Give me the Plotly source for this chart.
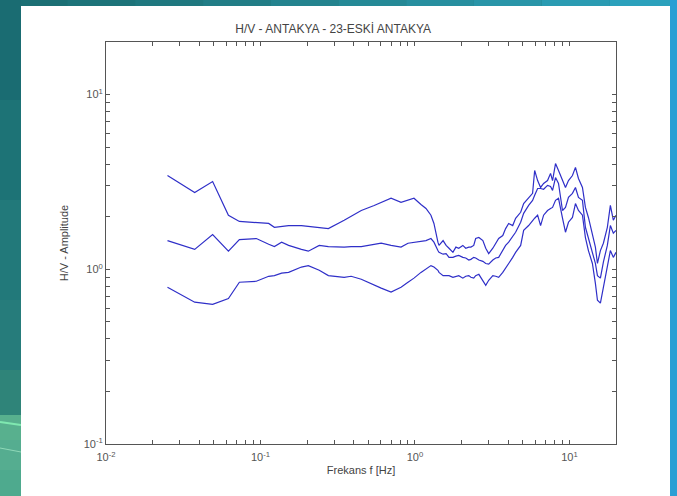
import plotly.graph_objects as go

# ---- data (frequency in Hz, H/V amplitude) ----
freq = [0.025, 0.0375, 0.049, 0.062, 0.073, 0.094, 0.113, 0.123, 0.137, 0.152, 0.184, 0.204, 0.240, 0.275, 0.348, 0.386, 0.449,
        0.544, 0.604, 0.700, 0.812, 0.901, 0.985, 1.093, 1.178, 1.268, 1.326, 1.407,
        1.43, 1.52, 1.59, 1.66, 1.76, 1.84, 1.92, 2.04, 2.13, 2.23, 2.30, 2.40, 2.47, 2.59, 2.75, 2.87, 3.00, 3.19, 3.33, 3.48, 3.70, 3.86, 4.04, 4.29, 4.48, 4.83,
        5.05, 5.44, 5.77, 5.95, 6.22, 6.50, 6.80, 7.21, 7.54, 7.77, 8.12, 8.49, 9.01, 9.42, 9.85, 10.45, 10.93, 11.43, 12.13, 12.68, 13.26, 14.07, 14.71, 15.17, 15.85, 16.57, 17.58, 18.39, 19.22, 20.0]

hv_upper = [3.44, 2.75, 3.18, 2.04, 1.88, 1.86, 1.83, 1.74, 1.76, 1.78, 1.78, 1.76, 1.74, 1.71, 1.91, 2.01, 2.17,
            2.32, 2.42, 2.55, 2.42, 2.48, 2.55, 2.35, 2.23, 2.04, 1.83, 1.43,
            1.37, 1.46, 1.37, 1.32, 1.25, 1.34, 1.32, 1.37, 1.32, 1.34, 1.34, 1.37, 1.50, 1.52, 1.46, 1.32, 1.23, 1.32, 1.41, 1.50, 1.56, 1.71, 1.83, 1.78, 1.96, 2.12,
            2.38, 2.58, 2.72, 3.68, 3.22, 2.94, 3.10, 3.22, 3.54, 3.22, 4.03, 3.68, 3.22, 2.94, 3.22, 3.44, 3.83, 3.31, 2.94, 2.26, 1.98, 1.61, 1.34, 1.08, 1.28, 1.41, 1.74, 2.32, 1.91, 2.04]

hv_mean = [1.46, 1.30, 1.58, 1.27, 1.48, 1.50, 1.39, 1.35, 1.43, 1.37, 1.30, 1.27, 1.37, 1.35, 1.34, 1.35, 1.35,
           1.39, 1.41, 1.37, 1.34, 1.41, 1.43, 1.45, 1.46, 1.50, 1.43, 1.28,
           1.25, 1.22, 1.23, 1.17, 1.17, 1.19, 1.20, 1.17, 1.16, 1.13, 1.14, 1.17, 1.16, 1.13, 1.11, 1.08, 1.07, 1.13, 1.16, 1.17, 1.28, 1.37, 1.43, 1.54, 1.63, 1.86,
           2.09, 2.32, 2.48, 2.65, 2.90, 2.90, 2.87, 3.02, 2.98, 2.83, 3.35, 3.10, 2.17, 2.26, 2.58, 2.72, 2.94, 2.58, 2.48, 1.74, 1.52, 1.28, 1.08, 0.92, 0.89, 1.10, 1.37, 1.78, 1.61, 1.67]

hv_lower = [0.79, 0.648, 0.63, 0.68, 0.843, 0.854, 0.912, 0.92, 0.95, 0.96, 1.03, 1.05, 0.987, 0.92, 0.90, 0.912, 0.877,
            0.81, 0.78, 0.74, 0.79, 0.843, 0.89, 0.96, 1.01, 1.05, 1.03, 0.987,
            0.96, 0.92, 0.92, 0.92, 0.90, 0.912, 0.92, 0.89, 0.912, 0.92, 0.90, 0.89, 0.92, 0.936, 0.865, 0.81, 0.865, 0.92, 0.912, 0.90, 0.96, 1.01, 1.08, 1.17, 1.25, 1.37,
            1.67, 1.78, 1.91, 1.96, 2.04, 1.78, 2.04, 2.17, 2.23, 2.26, 2.48, 2.55, 1.96, 1.63, 1.86, 1.98, 2.38, 2.17, 2.04, 1.52, 1.28, 1.08, 0.83, 0.665, 0.64, 0.79, 1.05, 1.28, 1.17, 1.25]

x_tickvals = [0.01, 0.02, 0.03, 0.04, 0.05, 0.06, 0.07, 0.08, 0.09,
              0.1, 0.2, 0.3, 0.4, 0.5, 0.6, 0.7, 0.8, 0.9,
              1, 2, 3, 4, 5, 6, 7, 8, 9, 10, 20]
x_major = {0.01: "10<sup>-2</sup>", 0.1: "10<sup>-1</sup>", 1: "10<sup>0</sup>", 10: "10<sup>1</sup>"}
y_tickvals = [0.1, 0.2, 0.3, 0.4, 0.5, 0.6, 0.7, 0.8, 0.9,
              1, 2, 3, 4, 5, 6, 7, 8, 9, 10, 20]
y_major = {0.1: "10<sup>-1</sup>", 1: "10<sup>0</sup>", 10: "10<sup>1</sup>"}

title_text = "H/V - ANTAKYA - 23-ESKİ ANTAKYA"
x_title = "Frekans f [Hz]"
y_title = "H/V - Amplitude"

W, H = 677, 496
ML, MR, MT, MB = 106, 61, 42, 52
PW, PH = W - ML - MR, H - MT - MB

def px(x):
    return (x - ML) / PW

def py(y):
    return (H - MB - y) / PH

line_color = "#2f2fc8"
FONT = "Liberation Sans, Arial"

fig = go.Figure()
for series in (hv_upper, hv_mean, hv_lower):
    fig.add_trace(go.Scatter(x=freq, y=series, mode="lines",
                             line=dict(color=line_color, width=1.2),
                             showlegend=False, hoverinfo="skip"))

# decorative slide background
shapes = []
top_cols = ["#1b6f74", "#1d7379", "#1f787f", "#217d86", "#23838e", "#258996", "#278f9f", "#2995a8", "#2a9bb2", "#2ba1bc"]
n = len(top_cols)
for i, c in enumerate(top_cols):
    shapes.append(dict(type="rect", xref="paper", yref="paper", layer="below",
                       x0=px(W * i / n), x1=px(W * (i + 1) / n), y0=py(0), y1=py(6),
                       fillcolor=c, line_width=0))
left_bands = [(0, 100, "#1a6c72"), (100, 200, "#1d7376"), (200, 300, "#22797a"), (300, 370, "#267c7b"),
              (370, 415, "#2f8479"), (415, 440, "#58b08e"), (440, 470, "#55ad90"), (470, 496, "#4eaa8e")]
for a, b, c in left_bands:
    shapes.append(dict(type="rect", xref="paper", yref="paper", layer="below",
                       x0=px(0), x1=px(21), y0=py(a), y1=py(b),
                       fillcolor=c, line_width=0))
shapes.append(dict(type="line", xref="paper", yref="paper", layer="below",
                   x0=px(0), x1=px(21), y0=py(422), y1=py(425), line=dict(color="#7fe8b0", width=2)))
shapes.append(dict(type="line", xref="paper", yref="paper", layer="below",
                   x0=px(0), x1=px(21), y0=py(448), y1=py(452), line=dict(color="#8fd8b8", width=1)))
shapes.append(dict(type="rect", xref="paper", yref="paper", layer="below",
                   x0=px(670), x1=px(W), y0=py(0), y1=py(H),
                   fillcolor="#2b9fd4", line_width=0))
shapes.append(dict(type="rect", xref="paper", yref="paper", layer="below",
                   x0=px(21), x1=px(670), y0=py(6), y1=py(H),
                   fillcolor="white", line_width=0))

axis_common = dict(type="log", showgrid=False, zeroline=False,
                   showline=True, linecolor="#555555", linewidth=1, mirror="ticks",
                   ticks="inside", ticklen=4, tickcolor="#555555", tickwidth=1,
                   tickfont=dict(family=FONT, size=11, color="#555555"))

fig.update_layout(
    width=W, height=H,
    margin=dict(l=ML, r=MR, t=MT, b=MB),
    paper_bgcolor="#1f7a7c",
    plot_bgcolor="white",
    shapes=shapes,
    title=dict(text=title_text, x=px(357), xanchor="center",
               y=1 - 29 / H, yanchor="middle",
               font=dict(family=FONT, size=12, color="#444444")),
    xaxis=dict(axis_common, range=[-2, 1.30103],
               tickvals=x_tickvals, ticktext=[x_major.get(v, "") for v in x_tickvals],
               ticklabelstandoff=3,
               title=dict(text=x_title, standoff=4,
                          font=dict(family=FONT, size=11, color="#444444"))),
    yaxis=dict(axis_common, range=[-1, 1.30103],
               tickvals=y_tickvals, ticktext=[y_major.get(v, "") for v in y_tickvals],
               title=dict(text=y_title, standoff=12,
                          font=dict(family=FONT, size=11, color="#444444"))),
)

fig.write_html("out.html")
